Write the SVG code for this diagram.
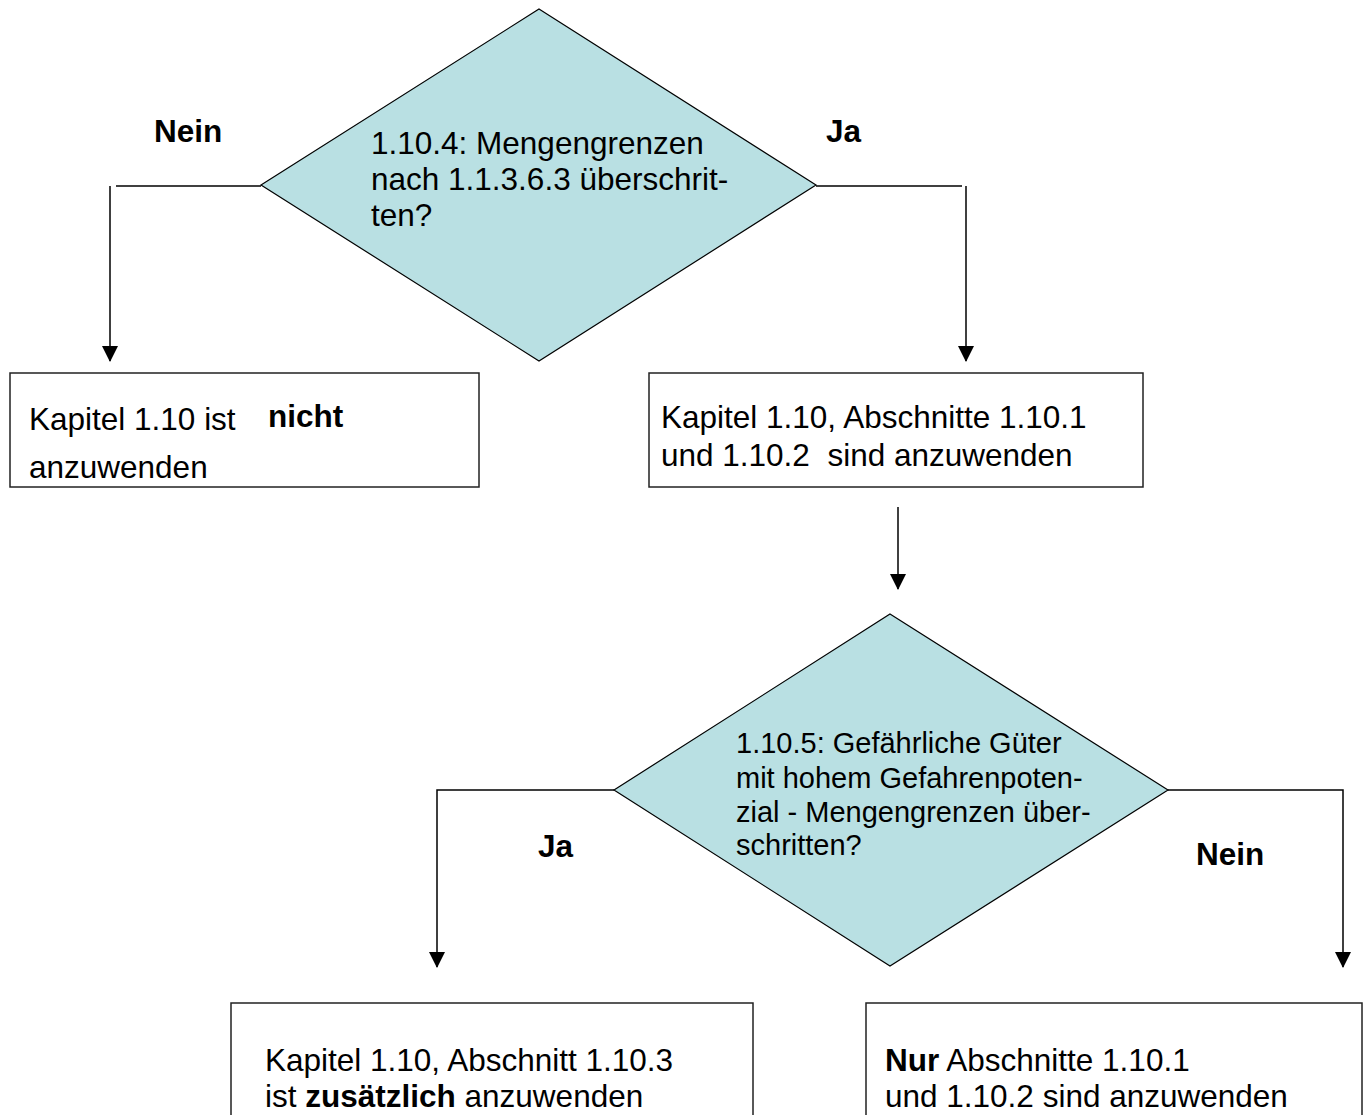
<svg xmlns="http://www.w3.org/2000/svg" width="1366" height="1115" viewBox="0 0 1366 1115">
<style>
text{font-family:"Liberation Sans",Arial,sans-serif;fill:#000}
.t{font-size:31.5px}
.s{font-size:29px}
.b{font-weight:bold}
.dia{fill:#b9e0e3;stroke:#000;stroke-width:1.2}
.box{fill:#fff;stroke:#222;stroke-width:1.5}
.ln{fill:none;stroke:#000;stroke-width:1.5}
</style>
<defs>
<marker id="ah" markerUnits="userSpaceOnUse" markerWidth="16" markerHeight="18" refX="15" refY="8" orient="auto" viewBox="0 0 16 16">
<path d="M0,0 L16,8 L0,16 Z" fill="#000"/>
</marker>
</defs>
<rect width="1366" height="1115" fill="#fff"/>
<g id="connectors">
<polyline class="ln" points="261,186 116,186"/>
<polyline class="ln" points="110,186 110,361" marker-end="url(#ah)"/>
<polyline class="ln" points="816,186 962,186"/>
<polyline class="ln" points="966,186 966,361" marker-end="url(#ah)"/>
<polyline class="ln" points="898,507 898,589" marker-end="url(#ah)"/>
<polyline class="ln" points="614,790 437,790 437,967" marker-end="url(#ah)"/>
<polyline class="ln" points="1168,790 1343,790 1343,967" marker-end="url(#ah)"/>
<text class="t b" x="154" y="142">Nein</text>
<text class="t b" x="826" y="142">Ja</text>
<text class="t b" x="538" y="857">Ja</text>
<text class="t b" x="1196" y="865">Nein</text>
</g>
<g id="decision1">
<polygon class="dia" points="539,9 816,185 539,361 261,185"/>
<text class="t" x="371" y="154">1.10.4: Mengengrenzen</text>
<text class="t" x="371" y="190">nach 1.1.3.6.3 überschrit-</text>
<text class="t" x="371" y="226">ten?</text>
</g>
<g id="box-nicht">
<rect class="box" x="10" y="373" width="469" height="114"/>
<text class="t" x="29" y="430">Kapitel 1.10 ist</text>
<text class="t b" x="268" y="427">nicht</text>
<text class="t" x="29" y="478">anzuwenden</text>
</g>
<g id="box-1101">
<rect class="box" x="649" y="373" width="494" height="114"/>
<text class="t" x="661" y="428">Kapitel 1.10, Abschnitte 1.10.1</text>
<text class="t" x="661" y="466" xml:space="preserve">und 1.10.2  sind anzuwenden</text>
</g>
<g id="decision2">
<polygon class="dia" points="890,614 1168,790 890,966 614,790"/>
<text class="s" x="736" y="753">1.10.5: Gefährliche Güter</text>
<text class="s" x="736" y="788">mit hohem Gefahrenpoten-</text>
<text class="s" x="736" y="822">zial - Mengengrenzen über-</text>
<text class="s" x="736" y="855">schritten?</text>
</g>
<g id="box-1103">
<rect class="box" x="231" y="1003" width="522" height="130"/>
<text class="t" x="265" y="1071">Kapitel 1.10, Abschnitt 1.10.3</text>
<text class="t" x="265" y="1107">ist <tspan class="b">zusätzlich</tspan> anzuwenden</text>
</g>
<g id="box-nur">
<rect class="box" x="866" y="1003" width="496" height="130"/>
<text class="t" x="885" y="1071"><tspan class="b">Nur</tspan> Abschnitte 1.10.1</text>
<text class="t" x="885" y="1107">und 1.10.2 sind anzuwenden</text>
</g>
</svg>
